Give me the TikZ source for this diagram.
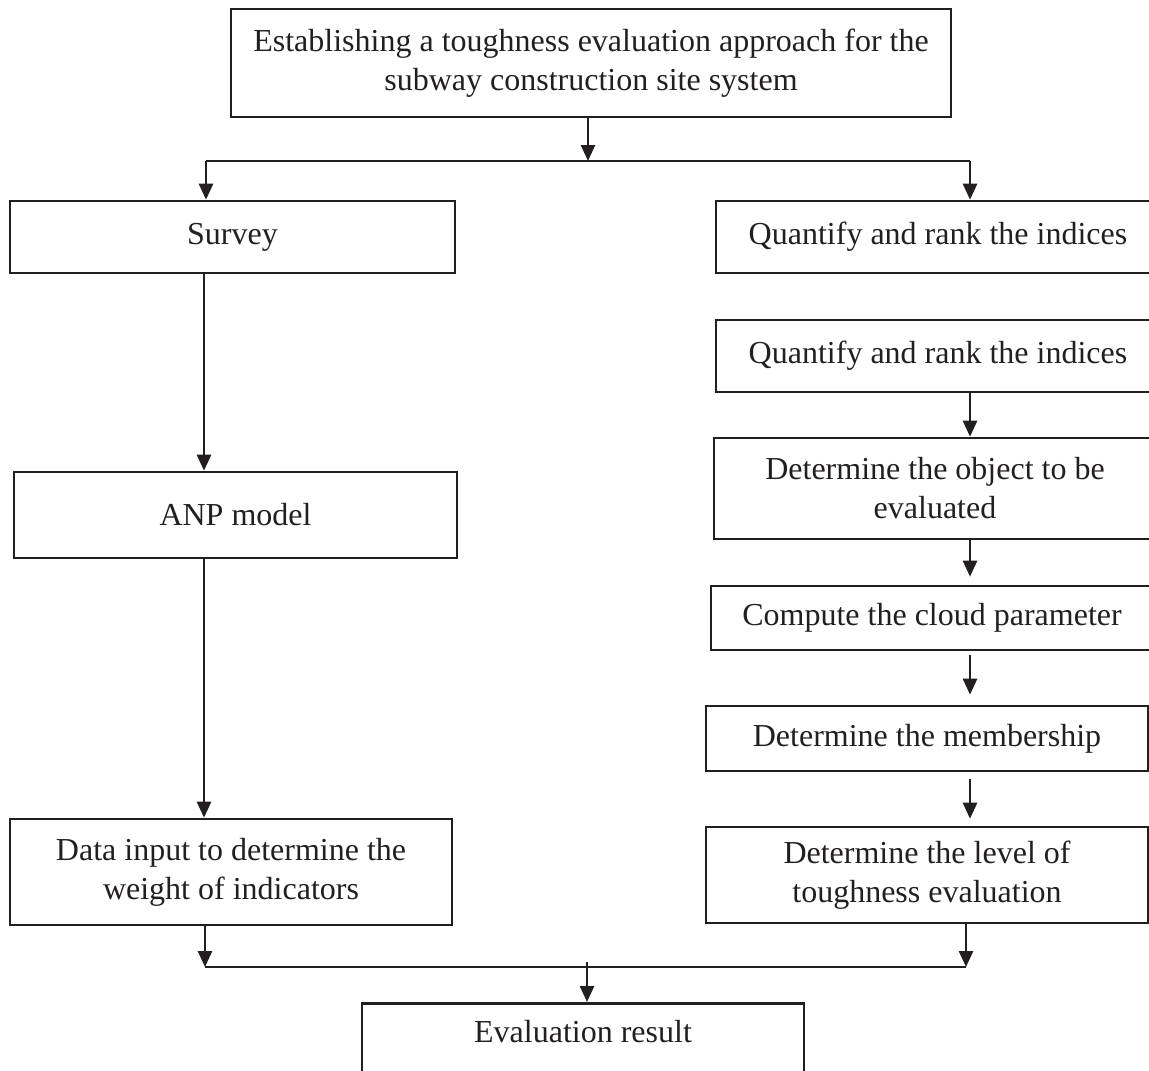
\documentclass[tikz,border=0pt]{standalone}
\usepackage{fontspec}
\setmainfont{Liberation Serif}
\usetikzlibrary{arrows.meta}
\definecolor{ink}{HTML}{231F20}
\begin{document}
\begin{tikzpicture}[x=0.5pt,y=-0.5pt,
  box/.style={draw=ink,line width=1.3pt,rectangle,inner sep=0pt,align=center,
    text=ink,font=\fontsize{16}{19.5}\selectfont},
  label/.style={text=ink,inner sep=0pt,align=center,font=\fontsize{16}{19.5}\selectfont},
  wire/.style={draw=ink,line width=1.3pt},
  arr/.style={wire,-{Triangle[length=8pt,width=7pt]}}]
\useasboundingbox (0,0) rectangle (1149,1070);
\clip (0,0) rectangle (1149,1070);

% main task
\node[box,minimum width=360pt,minimum height=54pt] (top) at (591,63)
  {Establishing a toughness evaluation approach for the\\subway construction site system};

% left branch
\node[box,minimum width=222.5pt,minimum height=36pt] (survey) at (232.5,237) {Survey};
\node[box,minimum width=221.5pt,minimum height=43pt] (anp) at (235.5,515) {ANP model};
\node[box,minimum width=221pt,minimum height=53pt] (data) at (231,872)
  {Data input to determine the\\weight of indicators};

% right branch
\node[box,minimum width=222pt,minimum height=36pt] (q1) at (938,237) {Quantify and rank the indices};
\node[box,minimum width=222pt,minimum height=36pt] (q2) at (938,356) {Quantify and rank the indices};
\node[box,minimum width=221pt,minimum height=50.5pt] (obj) at (935,488.5)
  {Determine the object to be\\evaluated};
\node[box,minimum width=221pt,minimum height=32pt] (cloud) at (932,618) {Compute the cloud parameter};
\node[box,minimum width=221pt,minimum height=32.5pt] (memb) at (927,738.5) {Determine the membership};
\node[box,minimum width=221pt,minimum height=48pt] (level) at (927,875)
  {Determine the level of\\toughness evaluation};

% result
\node[box,minimum width=221pt,minimum height=50pt,anchor=north] (res) at (583,1002) {};
\node[label] (restext) at (583,1032) {Evaluation result};

% split below the main task
\coordinate (sl) at (206,161);
\coordinate (sr) at (970,161);
\draw[wire] (sl) -- (sr);
\draw[arr] (top.south -| 588,0) -- (588,161);
\draw[arr] (sl) -- (sl |- survey.north);
\draw[arr] (sr) -- (sr |- q1.north);

% left chain
\draw[arr] (survey.south -| 204,0) -- (anp.north -| 204,0);
\draw[arr] (anp.south -| 204,0) -- (data.north -| 204,0);

% right chain
\draw[arr] (q2.south -| 970,0) -- (obj.north -| 970,0);
\draw[arr,shorten >=4pt] (obj.south -| 970,0) -- (cloud.north -| 970,0);
\draw[arr,shorten <=2pt,shorten >=5pt] (cloud.south -| 970,0) -- (memb.north -| 970,0);
\draw[arr,shorten <=3.5pt,shorten >=3.5pt] (memb.south -| 970,0) -- (level.north -| 970,0);

% join above the result
\coordinate (jl) at (205,967);
\coordinate (jr) at (966,967);
\draw[arr] (data.south -| jl) -- (jl);
\draw[arr] (level.south -| jr) -- (jr);
\draw[wire] (jl) -- (jr);
\draw[arr] (587,962) -- (res.north -| 587,0);
\end{tikzpicture}
\end{document}
